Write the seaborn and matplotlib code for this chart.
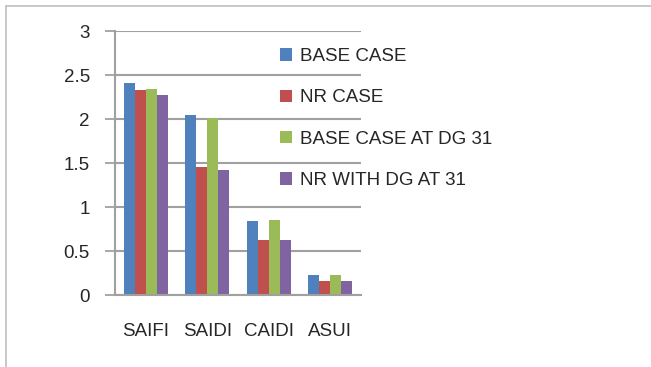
import numpy as np
import pandas as pd
import matplotlib
matplotlib.use('Agg')
import matplotlib.pyplot as plt
from matplotlib.patches import Patch
from matplotlib.lines import Line2D
import seaborn as sns

# 数据
categories = ['SAIFI', 'SAIDI', 'CAIDI', 'ASUI']
series_names = ['BASE CASE', 'NR CASE', 'BASE CASE AT DG 31', 'NR WITH DG AT 31']
base_case = [2.41, 2.04, 0.845, 0.227]
nr_case = [2.33, 1.455, 0.625, 0.16]
base_dg31 = [2.34, 2.01, 0.852, 0.223]
nr_dg31 = [2.27, 1.42, 0.625, 0.16]
colors = ['#4F81BD', '#C0504D', '#9BBB59', '#8064A2']
y_ticks = [0, 0.5, 1, 1.5, 2, 2.5, 3]
y_tick_labels = ['0', '0.5', '1', '1.5', '2', '2.5', '3']

sns.set_style('white')
plt.rcParams['font.family'] = ['Liberation Sans', 'DejaVu Sans']
fs = 13.5

rows = []
for name, vals in zip(series_names, [base_case, nr_case, base_dg31, nr_dg31]):
    for cat, v in zip(categories, vals):
        rows.append({'cat': cat, 'series': name, 'value': v})
df = pd.DataFrame(rows)

fig = plt.figure(figsize=(6.51, 3.67), dpi=100)
ax = fig.add_axes([115 / 651, 1 - 295 / 367, 246 / 651, 264 / 367])

sns.barplot(data=df, x='cat', y='value', hue='series', order=categories,
            hue_order=series_names, palette=colors, width=0.72, gap=0,
            linewidth=0, saturation=1, ax=ax, legend=False)

grey = '#a0a0a0'
ax.set_xlim(-0.5, len(categories) - 0.5)
ax.set_ylim(0, 3)
ax.set_yticks(y_ticks)
ax.set_yticklabels(y_tick_labels, fontsize=fs)
ax.set_xticks(range(len(categories)))
ax.set_xticklabels(categories, fontsize=fs)
ax.set_xticks(np.arange(-0.5, len(categories)), minor=True)
ax.tick_params(axis='x', which='major', length=0, pad=20)
ax.tick_params(axis='x', which='minor', length=8, width=1.3, color=grey, direction='out')
ax.tick_params(axis='y', length=7, width=1.3, color=grey, direction='out', pad=11, left=True)
ax.set_xlabel('')
ax.set_ylabel('')

ax.yaxis.grid(True, color=grey, linewidth=1.5)
ax.set_axisbelow(True)
for s in ['top', 'right']:
    ax.spines[s].set_visible(False)
for s in ['left', 'bottom']:
    ax.spines[s].set_color(grey)
    ax.spines[s].set_linewidth(1.5)

handles = [Patch(facecolor=c, edgecolor='none') for c in colors]
fig.legend(handles, series_names, loc='upper left', bbox_to_anchor=(280 / 651, 1 - 48 / 367),
           frameon=False, fontsize=fs, handlelength=0.65, handleheight=0.65,
           handletextpad=0.4, labelspacing=1.3, borderaxespad=0, borderpad=0)

# 外框
fig.add_artist(Line2D([6 / 651, 1], [1 - 6 / 367, 1 - 6 / 367], color='#bfbfbf', linewidth=1.2))
fig.add_artist(Line2D([6 / 651, 6 / 651], [0, 1 - 6 / 367], color='#bfbfbf', linewidth=1.2))

fig.savefig('out.png', dpi=100)
